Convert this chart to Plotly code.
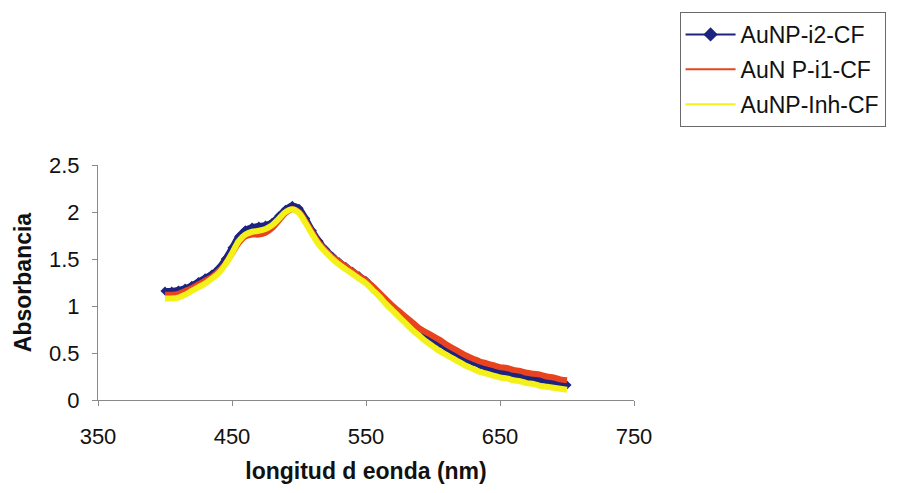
import plotly.graph_objects as go

wavelength = list(range(400, 701, 5))

aunp_i2 = [1.16, 1.16, 1.17, 1.19, 1.22, 1.26, 1.30, 1.34, 1.40, 1.50,
           1.62, 1.74, 1.81, 1.84, 1.85, 1.86, 1.89, 1.96, 2.03, 2.07,
           2.04, 1.93, 1.80, 1.69, 1.60, 1.53, 1.47, 1.42, 1.37, 1.32,
           1.27, 1.20, 1.13, 1.05, 0.98, 0.91, 0.85, 0.79, 0.73, 0.68,
           0.63, 0.60, 0.55, 0.51, 0.47, 0.43, 0.40, 0.37, 0.34, 0.32,
           0.30, 0.29, 0.27, 0.25, 0.24, 0.22, 0.21, 0.20, 0.18, 0.17, 0.16]

aunp_i1 = [1.12, 1.12, 1.13, 1.16, 1.19, 1.23, 1.27, 1.31, 1.37, 1.45,
           1.56, 1.67, 1.74, 1.76, 1.76, 1.78, 1.83, 1.91, 1.99, 2.03,
           2.00, 1.90, 1.78, 1.67, 1.59, 1.52, 1.47, 1.42, 1.37, 1.32,
           1.27, 1.21, 1.14, 1.07, 1.00, 0.94, 0.88, 0.82, 0.76, 0.72,
           0.68, 0.64, 0.59, 0.55, 0.51, 0.47, 0.44, 0.41, 0.39, 0.37,
           0.35, 0.34, 0.32, 0.31, 0.29, 0.28, 0.27, 0.25, 0.24, 0.22, 0.21]

aunp_inh = [1.08, 1.08, 1.09, 1.12, 1.16, 1.20, 1.24, 1.29, 1.35, 1.44,
            1.56, 1.69, 1.76, 1.79, 1.80, 1.82, 1.86, 1.93, 2.00, 2.03,
            1.99, 1.88, 1.76, 1.65, 1.57, 1.50, 1.44, 1.39, 1.34, 1.29,
            1.24, 1.17, 1.10, 1.02, 0.95, 0.88, 0.81, 0.74, 0.68, 0.62,
            0.57, 0.52, 0.48, 0.44, 0.40, 0.36, 0.33, 0.30, 0.28, 0.26,
            0.24, 0.23, 0.21, 0.20, 0.18, 0.17, 0.15, 0.14, 0.13, 0.12, 0.11]

series_names = ["AuNP-i2-CF", "AuN P-i1-CF", "AuNP-Inh-CF"]
series_colors = ["#1c2480", "#e8431e", "#f4f01a"]
x_ticks = [350, 450, 550, 650, 750]
y_ticks = [0, 0.5, 1, 1.5, 2, 2.5]
y_tick_labels = ["0", "0.5", "1", "1.5", "2", "2.5"]

FONT = "Liberation Sans, Arial, sans-serif"

fig = go.Figure()
# data traces (thick bands, as in the scan)
for i, (vals, name, col) in enumerate(zip([aunp_i2, aunp_i1, aunp_inh],
                                          series_names, series_colors)):
    kw = dict(x=wavelength, y=vals, name=name, legendgroup=name,
              showlegend=False, line=dict(color=col, width=6, shape="spline"))
    if i == 0:
        fig.add_trace(go.Scatter(mode="lines+markers",
                                 marker=dict(symbol="diamond", size=7, color=col),
                                 **kw))
    else:
        fig.add_trace(go.Scatter(mode="lines", **kw))

# legend entries (thin lines, as in the original legend)
for i, (name, col) in enumerate(zip(series_names, series_colors)):
    if i == 0:
        fig.add_trace(go.Scatter(x=[None], y=[None], name=name, legendgroup=name,
                                 mode="lines+markers",
                                 line=dict(color=col, width=2),
                                 marker=dict(symbol="diamond", size=11, color=col)))
    else:
        fig.add_trace(go.Scatter(x=[None], y=[None], name=name, legendgroup=name,
                                 mode="lines", line=dict(color=col, width=2)))

axis_common = dict(
    showgrid=False, zeroline=False, showline=True, linecolor="#8a8a8a",
    linewidth=1, ticks="outside", tickcolor="#8a8a8a", ticklen=5,
    tickfont=dict(family=FONT, size=22, color="#111111"),
)

fig.update_layout(
    width=898, height=493,
    margin=dict(l=98, r=261, t=165, b=93),
    paper_bgcolor="white", plot_bgcolor="white",
    xaxis=dict(range=[350, 750], tickvals=x_ticks, ticklabelstandoff=12,
               title=dict(text="<b>longitud d eonda (nm)</b>",
                          font=dict(family=FONT, size=23, color="#111111"),
                          standoff=14),
               **axis_common),
    yaxis=dict(range=[0, 2.5], tickvals=y_ticks, ticktext=y_tick_labels,
               ticklabelstandoff=8,
               title=dict(text="<b>Absorbancia</b>",
                          font=dict(family=FONT, size=23, color="#111111"),
                          standoff=10),
               **axis_common),
    legend=dict(x=1.085, y=1.651, xanchor="left", yanchor="top",
                bordercolor="#6a6a6a", borderwidth=1, bgcolor="white",
                font=dict(family=FONT, size=23, color="#111111"),
                itemwidth=50, tracegroupgap=2),
    showlegend=True,
)

fig.write_html("out.html")
